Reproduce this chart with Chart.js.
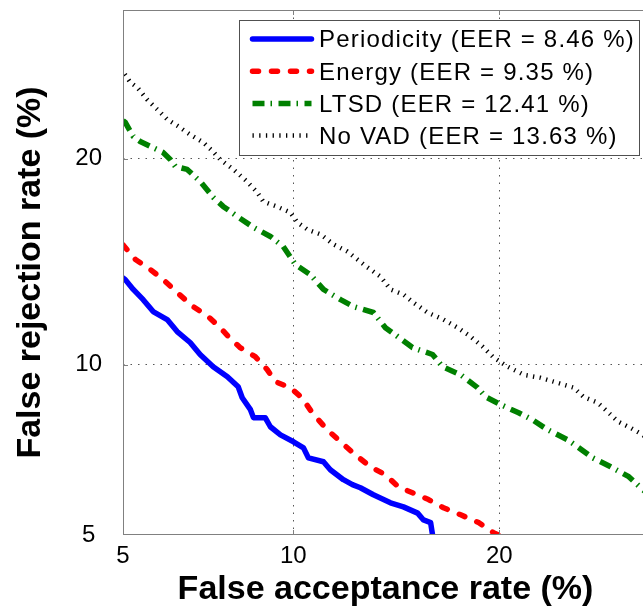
<!DOCTYPE html>
<html><head><meta charset="utf-8">
<script src="https://cdn.jsdelivr.net/npm/chart.js@4/dist/chart.umd.min.js"></script>
<style>html,body{margin:0;padding:0;background:#fff;overflow:hidden}canvas{display:block}</style>
</head><body><canvas id="c" width="648" height="608"></canvas>
<script>
// ---- data (percent) ----
const seriesLabels = ['Periodicity (EER = 8.46 %)', 'Energy (EER = 9.35 %)', 'LTSD (EER = 12.41 %)', 'No VAD (EER = 13.63 %)'];
const xTickValues = [5, 10, 20];
const yTickValues = [5, 10, 20];

const periodicityFA = [5.00,5.05,5.23,5.46,5.70,6.05,6.31,6.66,6.94,7.32,7.75,8.09,8.22,8.49,8.59,8.99,9.17,9.53,10.01,10.39,10.58,11.18,11.46,12.01,12.40,12.75,13.34,14.14,14.77,15.48,15.78,16.15,16.25];
const periodicityFR = [13.65,13.57,13.12,12.66,12.14,11.80,11.30,10.86,10.39,9.93,9.56,9.20,8.82,8.42,8.16,8.16,7.87,7.62,7.41,7.23,6.94,6.83,6.61,6.34,6.21,6.13,5.95,5.75,5.65,5.50,5.34,5.28,5.00];

const energyFA = [5.00,5.05,5.28,5.63,5.95,6.31,6.74,7.17,7.53,7.78,8.15,8.65,9.06,9.35,9.89,10.33,10.73,11.33,11.89,12.52,13.21,13.90,14.53,15.22,16.04,16.83,17.77,18.78,19.65,19.95];
const energyFR = [15.25,15.12,14.53,14.05,13.57,12.98,12.36,11.93,11.46,11.10,10.66,10.31,9.82,9.38,9.17,8.82,8.32,7.78,7.41,7.03,6.69,6.47,6.15,6.00,5.83,5.63,5.46,5.28,5.05,5.00];

const ltsdFA = [5.00,5.05,5.23,5.39,5.68,5.94,6.13,6.26,6.58,6.94,7.32,7.62,8.06,8.59,9.17,9.63,10.08,10.65,11.18,11.89,12.44,13.34,13.90,14.48,15.22,16.25,16.78,17.77,18.72,19.19,20.07,21.17,22.04,23.00,24.32,25.00,26.03,27.29,28.59,29.61,30.0];
const ltsdFR = [22.35,22.23,21.35,21.04,20.68,20.38,19.95,19.54,19.36,18.67,17.77,17.27,16.73,16.15,15.68,15.17,14.29,13.81,13.12,12.66,12.36,12.10,11.46,11.10,10.66,10.39,9.93,9.63,9.17,8.85,8.59,8.32,8.09,7.78,7.47,7.26,6.94,6.69,6.42,6.08,5.98];

const noVadFA = [5.04,5.16,5.32,5.55,5.80,6.05,6.33,6.66,7.03,7.32,7.53,7.94,8.37,8.72,8.92,9.39,9.89,10.16,10.54,11.07,11.59,12.18,12.62,13.07,13.67,14.14,14.77,15.27,15.99,16.83,17.60,18.32,19.01,19.65,20.50,21.48,22.55,23.66,24.73,25.40,26.35,27.05,27.83,28.70,29.61,30.0];
const noVadFR = [25.41,24.87,24.53,23.73,23.07,22.43,22.00,21.47,20.98,20.42,19.95,19.36,18.67,18.04,17.54,17.27,16.94,16.41,16.04,15.78,15.28,14.92,14.53,14.15,13.71,13.12,12.89,12.53,12.10,11.80,11.46,11.10,10.70,10.28,9.93,9.63,9.52,9.34,9.17,8.85,8.66,8.36,8.03,7.84,7.62,7.5];

// ---- normal deviate helpers ----
function probit(p){
  const a=[-3.969683028665376e+01,2.209460984245205e+02,-2.759285104469687e+02,1.383577518672690e+02,-3.066479806614716e+01,2.506628277459239e+00];
  const b=[-5.447609879822406e+01,1.615858368580409e+02,-1.556989798598866e+02,6.680131188771972e+01,-1.328068155288572e+01];
  const c=[-7.784894002430293e-03,-3.223964580411365e-01,-2.400758277161838e+00,-2.549732539343734e+00,4.374664141464968e+00,2.938163982698783e+00];
  const d=[7.784695709041462e-03,3.224671290700398e-01,2.445134137142996e+00,3.754408661907416e+00];
  const pl=0.02425, ph=1-pl; let q,r;
  if(p<pl){q=Math.sqrt(-2*Math.log(p));return (((((c[0]*q+c[1])*q+c[2])*q+c[3])*q+c[4])*q+c[5])/((((d[0]*q+d[1])*q+d[2])*q+d[3])*q+1);}
  if(p<=ph){q=p-0.5;r=q*q;return (((((a[0]*r+a[1])*r+a[2])*r+a[3])*r+a[4])*r+a[5])*q/(((((b[0]*r+b[1])*r+b[2])*r+b[3])*r+b[4])*r+1);}
  q=Math.sqrt(-2*Math.log(1-p));return -(((((c[0]*q+c[1])*q+c[2])*q+c[3])*q+c[4])*q+c[5])/((((d[0]*q+d[1])*q+d[2])*q+d[3])*q+1);
}
function normCdf(z){
  const t=1/(1+0.3275911*Math.abs(z)/Math.SQRT2);
  const y=1-(((((1.061405429*t-1.453152027)*t)+1.421413741)*t-0.284496736)*t+0.254829592)*t*Math.exp(-z*z/2);
  return z>=0?(1+y)/2:(1-y)/2;
}

class ProbitScale extends Chart.Scale {
  static id = 'probit';
  static defaults = {};
  parse(raw){ const v=+raw; return isFinite(v)?v:null; }
  determineDataLimits(){ this.min=this.options.min; this.max=this.options.max; }
  buildTicks(){ return (this.options.tickValues||[]).map(v=>({value:v})); }
  configure(){ super.configure(); this._zStart=probit(this.min/100); this._zEnd=probit(this.max/100); }
  getLabelForValue(v){ return String(v); }
  getPixelForValue(v){
    if(v===null||v===undefined||isNaN(v)) return NaN;
    return this.getPixelForDecimal((probit(v/100)-this._zStart)/(this._zEnd-this._zStart));
  }
  getValueForPixel(px){
    const d=this.getDecimalForPixel(px);
    return 100*normCdf(this._zStart+d*(this._zEnd-this._zStart));
  }
}
Chart.register(ProbitScale);

const zip=(xs,ys)=>xs.map((x,i)=>({x:x,y:ys[i]}));
const FONT='"Liberation Sans", Arial, sans-serif';

const datasets=[
  {label:seriesLabels[0],data:zip(periodicityFA,periodicityFR),borderColor:'#0000ff',borderWidth:5.5,borderDash:[],borderCapStyle:'round',borderJoinStyle:'round'},
  {label:seriesLabels[1],data:zip(energyFA,energyFR),borderColor:'#ff0000',borderWidth:5.5,borderDash:[6,13],borderCapStyle:'round',borderJoinStyle:'round'},
  {label:seriesLabels[2],data:zip(ltsdFA,ltsdFR),borderColor:'#008000',borderWidth:5.5,borderDash:[12,6,1.5,6.5],borderCapStyle:'butt',borderJoinStyle:'round'},
  {label:seriesLabels[3],data:zip(noVadFA,noVadFR),borderColor:'#000000',borderWidth:4.5,borderDash:[1.3,5.4],borderCapStyle:'butt',borderJoinStyle:'round'}
];

const framePlugin={
  id:'frameAndLegend',
  afterDatasetsDraw(chart){
    const {ctx,chartArea:a,scales:{x,y}}=chart;
    ctx.save();
    ctx.setLineDash([]);
    ctx.strokeStyle='#808080'; ctx.lineWidth=1;
    ctx.strokeRect(a.left+0.5,a.top+0.5,a.right-a.left-1,a.bottom-a.top-1);
    ctx.beginPath();
    x.ticks.forEach(t=>{ if(t.value===x.min) return; const px=Math.round(x.getPixelForValue(t.value))+0.5;
      ctx.moveTo(px,a.top); ctx.lineTo(px,a.top+5); ctx.moveTo(px,a.bottom); ctx.lineTo(px,a.bottom-5); });
    y.ticks.forEach(t=>{ if(t.value===y.min) return; const py=Math.round(y.getPixelForValue(t.value))+0.5;
      ctx.moveTo(a.left,py); ctx.lineTo(a.left+5,py); });
    ctx.stroke();
    // legend box
    const w=400,h=135;
    const bx=Math.round(a.right-9-w)+0.5, by=Math.round(a.top+10)+0.5;
    ctx.fillStyle='#fff'; ctx.fillRect(bx,by,w,h);
    ctx.strokeStyle='#505050'; ctx.lineWidth=1; ctx.strokeRect(bx,by,w,h);
    ctx.font='24px '+FONT; ctx.fillStyle='#000'; ctx.textBaseline='middle'; ctx.textAlign='left';
    try{ ctx.letterSpacing='1.2px'; }catch(e){}
    chart.data.datasets.forEach((ds,i)=>{
      const ly=by+18.5+32.2*i;
      ctx.save();
      ctx.strokeStyle=ds.borderColor; ctx.lineWidth=ds.borderWidth; ctx.setLineDash(ds.borderDash||[]);
      ctx.lineCap=ds.borderCapStyle||'butt';
      ctx.beginPath(); ctx.moveTo(bx+13,ly); ctx.lineTo(bx+72,ly); ctx.stroke();
      ctx.restore();
      ctx.fillText(ds.label,bx+79.5,ly+1.8);
    });
    ctx.restore();
  }
};

const gridColor=c=>(c.tick&&c.tick.value===5)?'rgba(0,0,0,0)':'#555';

new Chart(document.getElementById('c'),{
  type:'line',
  data:{datasets:datasets},
  options:{
    responsive:false, devicePixelRatio:1, animation:false, events:[],
    layout:{padding:{top:10,left:0,right:0,bottom:0}},
    elements:{point:{radius:0},line:{tension:0,fill:false}},
    plugins:{legend:{display:false},tooltip:{enabled:false}},
    scales:{
      x:{type:'probit',position:'bottom',min:5,max:30,tickValues:xTickValues,
        afterFit(s){s.height=73;s.paddingLeft=0;s.paddingRight=0;},
        grid:{color:gridColor,lineWidth:1,drawTicks:false},
        border:{display:false,dash:[1.5,6]},
        ticks:{autoSkip:false,maxRotation:0,padding:7,color:'#000',font:{family:FONT,size:24},callback:(v,i,t)=>String(t[i].value)},
        title:{display:true,text:'False acceptance rate (%)',color:'#000',font:{family:FONT,size:34,weight:'bold',lineHeight:1},padding:{top:0,bottom:1}}
      },
      y:{type:'probit',position:'left',min:5,max:30,tickValues:yTickValues,
        afterFit(s){s.width=123;s.paddingTop=0;s.paddingBottom=0;},
        grid:{color:gridColor,lineWidth:1,drawTicks:false},
        border:{display:false,dash:[1.5,6]},
        ticks:{autoSkip:false,padding:21,crossAlign:'center',color:'#000',font:{family:FONT,size:24},callback:(v,i,t)=>String(t[i].value)},
        title:{display:true,text:'False rejection rate (%)',color:'#000',font:{family:FONT,size:34,weight:'bold',lineHeight:1},padding:{top:13.5,bottom:0}}
      }
    }
  },
  plugins:[framePlugin]
});
</script></body></html>
